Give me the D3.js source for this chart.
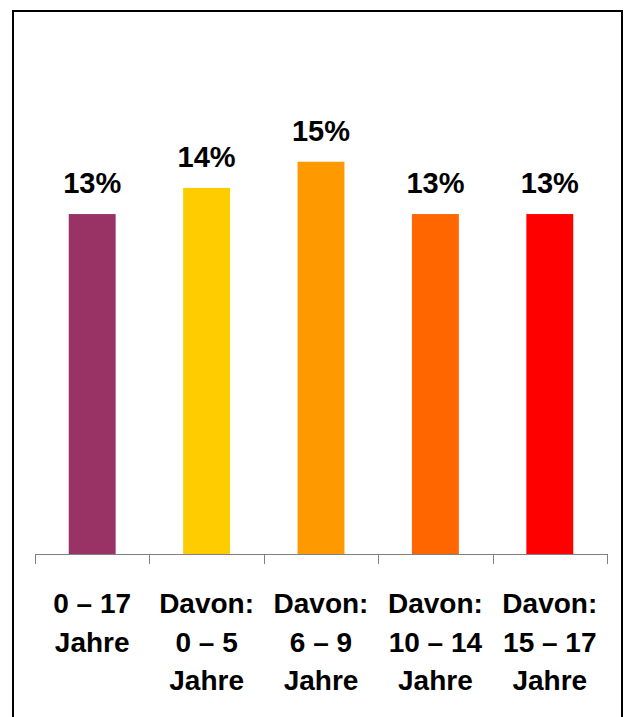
<!DOCTYPE html>
<html>
<head>
<meta charset="utf-8">
<script src="https://cdn.jsdelivr.net/npm/d3@7"></script>
<style>
  html, body { margin: 0; padding: 0; background: #fff; }
  svg { display: block; }
  text { font-family: "Liberation Sans", Arial, Helvetica, sans-serif; font-weight: bold; fill: #000; }
</style>
</head>
<body>
<svg id="chart" width="625" height="717"></svg>
<script>
const categories = ["0 – 17|Jahre", "Davon:|0 – 5|Jahre", "Davon:|6 – 9|Jahre", "Davon:|10 – 14|Jahre", "Davon:|15 – 17|Jahre"];
const values = [13, 14, 15, 13, 13];
const valueLabels = ["13%", "14%", "15%", "13%", "13%"];
const colors = ["#993366", "#FFCC00", "#FF9900", "#FF6600", "#FF0000"];

const svg = d3.select("#chart");

// frame
svg.append("rect")
  .attr("x", 13).attr("y", 11)
  .attr("width", 609).attr("height", 720)
  .attr("fill", "none").attr("stroke", "#000").attr("stroke-width", 2);

const x = d3.scaleBand().domain(d3.range(categories.length)).range([35, 607]).paddingInner(0.59).paddingOuter(0.295);
const xOuter = d3.scaleBand().domain(d3.range(categories.length)).range([35, 607]);
const y = d3.scaleLinear().domain([0, 20]).range([554, 31]);

// bars
svg.selectAll("rect.bar").data(values).join("rect")
  .attr("class", "bar")
  .attr("x", (d, i) => x(i))
  .attr("width", x.bandwidth())
  .attr("y", d => y(d))
  .attr("height", d => y(0) - y(d))
  .attr("fill", (d, i) => colors[i]);

// value labels
svg.selectAll("text.val").data(values).join("text")
  .attr("class", "val")
  .attr("x", (d, i) => x(i) + x.bandwidth() / 2)
  .attr("y", d => y(d) - 21)
  .attr("text-anchor", "middle")
  .attr("font-size", 29)
  .text((d, i) => valueLabels[i]);

// axis line and ticks at band boundaries
const axisG = svg.append("g").attr("stroke", "#808080").attr("stroke-width", 1);
axisG.append("line").attr("x1", 35).attr("x2", 607).attr("y1", y(0) + 0.5).attr("y2", y(0) + 0.5);
const bounds = d3.range(categories.length).map(i => xOuter(i)).concat([xOuter.range()[1]]);
axisG.selectAll("line.tick").data(bounds).join("line")
  .attr("class", "tick")
  .attr("x1", d => Math.round(d) + 0.5).attr("x2", d => Math.round(d) + 0.5)
  .attr("y1", y(0)).attr("y2", y(0) + 10);

// category labels
categories.forEach((c, i) => {
  const t = svg.append("text")
    .attr("x", xOuter(i) + xOuter.bandwidth() / 2)
    .attr("y", 613)
    .attr("text-anchor", "middle")
    .attr("font-size", 28);
  c.split("|").forEach((line, k) => {
    t.append("tspan")
      .attr("x", xOuter(i) + xOuter.bandwidth() / 2)
      .attr("y", 613 + k * 38.5)
      .text(line);
  });
});
</script>
</body>
</html>
